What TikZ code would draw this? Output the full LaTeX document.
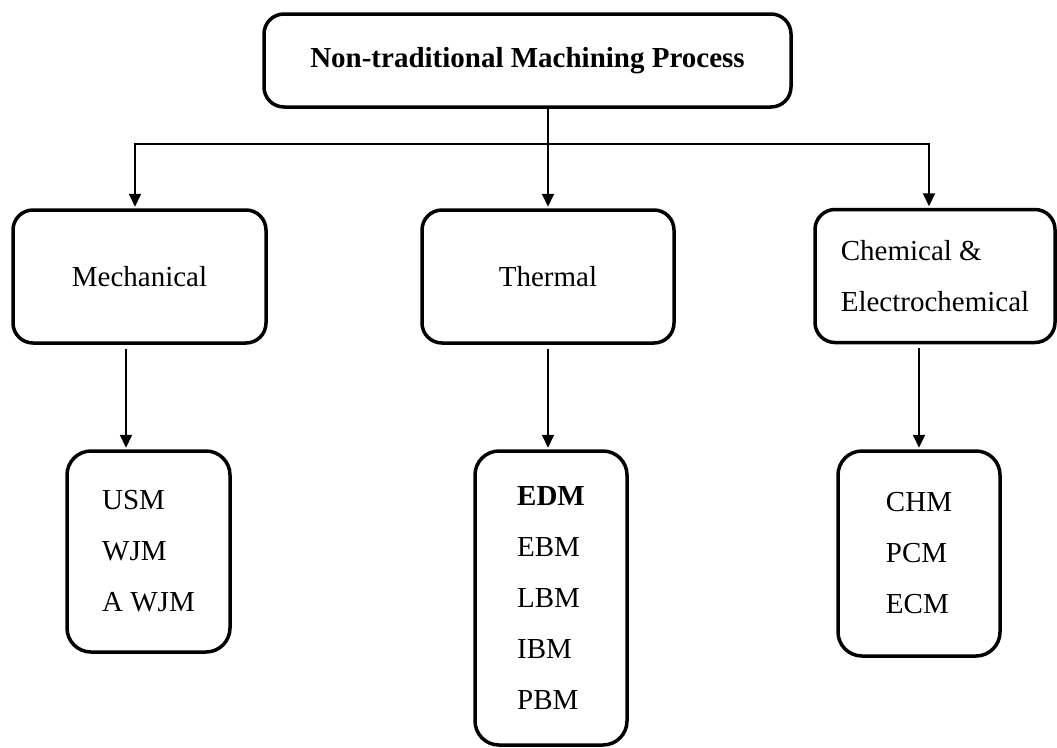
\documentclass[tikz,border=0pt]{standalone}
\usepackage{fontspec}
\setmainfont{Liberation Serif}
\usetikzlibrary{arrows.meta}
\begin{document}
\begin{tikzpicture}[x=1pt,y=-1pt,
  box/.style={draw, line width=3.5pt, rounded corners=20pt, inner sep=0pt, align=center,
    font=\fontsize{29pt}{51pt}\selectfont},
  listbox/.style={box, rounded corners=24pt, align=left},
  conn/.style={line width=2pt, line cap=rect},
  arr/.style={conn, -{Triangle[length=13pt,width=12pt]}, shorten >=1.5pt}]
\useasboundingbox (0,0) rectangle (1057,747);
% boxes
\node[box, minimum width=527pt, minimum height=93pt,
  font=\fontsize{29pt}{51pt}\selectfont\bfseries] (top) at (527.5,60.5) {Non-traditional Machining Process};
\node[box, minimum width=253pt, minimum height=133pt] (mech) at (139.5,276.5) {Mechanical};
\node[box, minimum width=252pt, minimum height=133pt] (therm) at (548,276.5) {Thermal};
\node[box, align=left, minimum width=240pt, minimum height=133pt] (chem) at (935,276) {Chemical \&\\Electrochemical};
\node[listbox, minimum width=163pt, minimum height=201pt] (mlist) at (148.5,551.5) {USM\\WJM\\A WJM};
\node[listbox, minimum width=152pt, minimum height=294pt] (tlist) at (551,598) {\textbf{EDM}\\EBM\\LBM\\IBM\\PBM};
\node[listbox, minimum width=162pt, minimum height=205pt] (clist) at (919,553.5) {CHM\\PCM\\ECM};
% connectors from the top box
\coordinate (bar) at (0,144);
\coordinate (mtop) at ([xshift=-4.5pt]mech.north);
\coordinate (ctop) at ([xshift=-6pt]chem.north);
\draw[arr] (top.south -| therm.north) -- (therm.north);
\draw[arr] (ctop |- bar) -- (mtop |- bar) -- (mtop);
\draw[arr] (ctop |- bar) -- (ctop);
% connectors to the lists
\coordinate (ms) at ([xshift=-13.5pt]mech.south);
\coordinate (cs) at (clist.north |- chem.south);
\draw[arr] ([yshift=-5pt]ms) -- (ms |- mlist.north);
\draw[arr] ([yshift=-5pt]therm.south) -- (therm.south |- tlist.north);
\draw[arr] ([yshift=-5pt]cs) -- (clist.north);
\end{tikzpicture}
\end{document}
